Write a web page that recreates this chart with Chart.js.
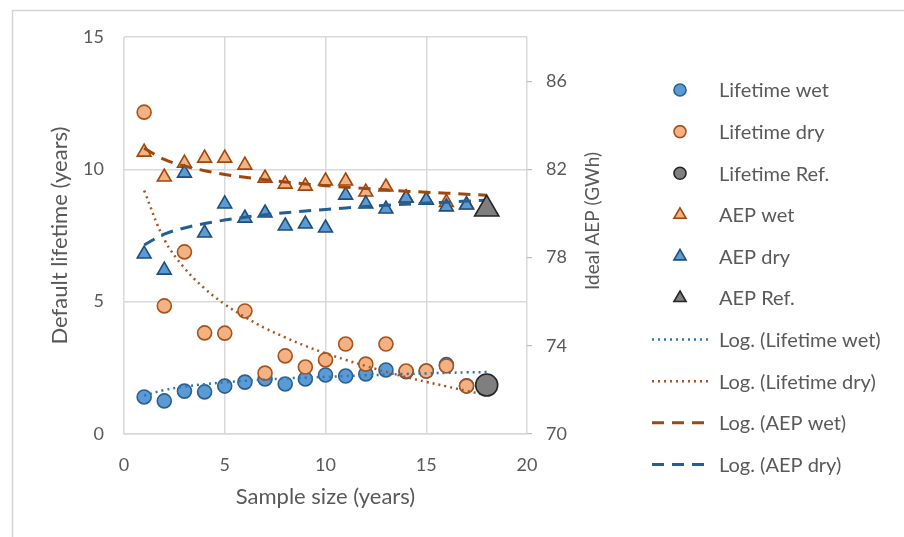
<!DOCTYPE html>
<html>
<head>
<meta charset="utf-8">
<title>Lifetime and AEP vs sample size</title>
<script src="https://cdn.jsdelivr.net/npm/chart.js@4.4.1/dist/chart.umd.min.js"></script>
<style>
  html, body { margin: 0; padding: 0; background: #fff; }
  #wrap { position: relative; width: 904px; height: 537px; }
</style>
</head>
<body>
<div id="wrap"><canvas id="chart" width="904" height="537"></canvas></div>
<script>
// sample sizes (years) of the bootstrap points
const sampleYears = [1, 2, 3, 4, 5, 6, 7, 8, 9, 10, 11, 12, 13, 14, 15, 16, 17];
const lifetimeWet = [1.40, 1.25, 1.62, 1.59, 1.81, 1.96, 2.08, 1.89, 2.08, 2.23, 2.19, 2.27, 2.42, 2.35, 2.38, 2.62, 1.82];
const lifetimeDry = [12.16, 4.84, 6.88, 3.82, 3.81, 4.65, 2.30, 2.95, 2.53, 2.80, 3.40, 2.64, 3.40, 2.38, 2.38, 2.57, 1.81];
const aepWet = [82.78, 81.65, 82.28, 82.51, 82.51, 82.19, 81.60, 81.33, 81.24, 81.47, 81.47, 80.97, 81.20, 80.70, 80.60, 80.50, 80.40];
const aepDry = [78.16, 77.43, 81.83, 79.11, 80.43, 79.79, 80.02, 79.43, 79.52, 79.34, 80.83, 80.43, 80.20, 80.70, 80.60, 80.30, 80.38];

// reference values (full record)
const refYears = [18];
const lifetimeRef = [1.85];
const aepRef = [80.2];

// log trendlines
const trendYears = [1, 2, 3, 4, 5, 6, 7, 8, 9, 10, 11, 12, 13, 14, 15, 16, 17, 18];
const logLifetimeWet = [1.45, 1.66, 1.79, 1.88, 1.95, 2.01, 2.06, 2.10, 2.13, 2.16, 2.19, 2.22, 2.24, 2.27, 2.29, 2.31, 2.33, 2.34];
const logLifetimeDry = [9.20, 7.35, 6.27, 5.50, 4.90, 4.42, 4.00, 3.65, 3.33, 3.05, 2.80, 2.57, 2.35, 2.15, 1.97, 1.80, 1.63, 1.47];
const logAepWet = [82.96, 82.45, 82.15, 81.94, 81.77, 81.64, 81.53, 81.43, 81.34, 81.26, 81.19, 81.13, 81.07, 81.01, 80.96, 80.92, 80.87, 80.83];
const logAepDry = [78.57, 79.06, 79.34, 79.54, 79.70, 79.83, 79.94, 80.03, 80.11, 80.18, 80.25, 80.31, 80.37, 80.42, 80.47, 80.51, 80.56, 80.60];

// axis ticks
const xTicks = [0, 5, 10, 15, 20];
const lifetimeTicks = [0, 5, 10, 15];
const aepTicks = [70, 74, 78, 82, 86];

const textColor = '#595959';
const gridColor = '#d9d9d9';
const fontFamily = 'Lato, "Open Sans", sans-serif';

function pts(xs, ys) {
    return xs.map((x, i) => ({ x: x, y: ys[i] }));
}

function markerSet(label, xs, ys, axis, style, fill, stroke, radius) {
    return {
        label: label,
        data: pts(xs, ys),
        yAxisID: axis,
        showLine: false,
        pointStyle: style,
        pointRadius: radius,
        pointBackgroundColor: fill,
        pointBorderColor: stroke,
        pointBorderWidth: 1.6,
        backgroundColor: fill,
        borderColor: stroke
    };
}

function trendSet(label, ys, axis, color, dash, width) {
    return {
        label: label,
        data: pts(trendYears, ys),
        yAxisID: axis,
        showLine: true,
        pointRadius: 0,
        borderColor: color,
        backgroundColor: color,
        borderWidth: width,
        borderDash: dash,
        tension: 0.4,
        fill: false
    };
}

const datasets = [
    markerSet('Lifetime wet', sampleYears, lifetimeWet, 'y', 'circle', '#5b9bd5', '#2c5f8e', 7),
    markerSet('Lifetime dry', sampleYears, lifetimeDry, 'y', 'circle', '#f4b183', '#a5531c', 7),
    markerSet('Lifetime Ref.', refYears, lifetimeRef, 'y', 'circle', '#7f7f7f', '#262626', 11),
    markerSet('AEP wet', sampleYears, aepWet, 'y1', 'triangle', '#f4b183', '#9e480e', 8),
    markerSet('AEP dry', sampleYears, aepDry, 'y1', 'triangle', '#5b9bd5', '#1f4e79', 8),
    markerSet('AEP Ref.', refYears, aepRef, 'y1', 'triangle', '#7f7f7f', '#262626', 14),
    trendSet('Log. (Lifetime wet)', logLifetimeWet, 'y', '#2e75b6', [2, 4], 2.5),
    trendSet('Log. (Lifetime dry)', logLifetimeDry, 'y', '#a9541f', [2, 4], 2.5),
    trendSet('Log. (AEP wet)', logAepWet, 'y1', '#9e480e', [12, 8], 3),
    trendSet('Log. (AEP dry)', logAepDry, 'y1', '#255e91', [12, 8], 3)
];

// Excel stacking: later series on top, reference points last
const stackOrder = ['Lifetime wet', 'Lifetime dry', 'AEP wet', 'AEP dry',
    'Log. (Lifetime wet)', 'Log. (Lifetime dry)', 'Log. (AEP wet)', 'Log. (AEP dry)',
    'Lifetime Ref.', 'AEP Ref.'];
datasets.forEach(ds => { ds.order = stackOrder.length - stackOrder.indexOf(ds.label); });

// legend drawn by hand so markers and dashed samples sit like the original
const legendPlugin = {
    id: 'sideLegend',
    afterDraw(chart) {
        const c = chart.ctx;
        const markerX = 680, textX = 719, top = 90, step = 41.6;
        c.save();
        c.font = '20px ' + fontFamily;
        c.textBaseline = 'middle';
        c.textAlign = 'left';
        chart.data.datasets.forEach((ds, i) => {
            const y = top + i * step;
            if (ds.showLine) {
                c.beginPath();
                c.setLineDash(ds.borderDash);
                c.lineWidth = ds.borderWidth;
                c.strokeStyle = ds.borderColor;
                c.moveTo(652, y);
                c.lineTo(708, y);
                c.stroke();
                c.setLineDash([]);
            } else {
                c.beginPath();
                c.fillStyle = ds.pointBackgroundColor;
                c.strokeStyle = ds.pointBorderColor;
                c.lineWidth = 1.6;
                if (ds.pointStyle === 'circle') {
                    c.arc(markerX, y, 6, 0, Math.PI * 2);
                } else {
                    const r = 7;
                    c.moveTo(markerX, y - r);
                    c.lineTo(markerX + r * 0.866, y + r * 0.5);
                    c.lineTo(markerX - r * 0.866, y + r * 0.5);
                    c.closePath();
                }
                c.fill();
                c.stroke();
            }
            c.fillStyle = textColor;
            c.fillText(ds.label, textX, y + 1);
        });
        c.restore();
    }
};

// outer frame and the secondary axis title (reads bottom to top, as in the original)
const framePlugin = {
    id: 'frameAndTitle',
    beforeDraw(chart) {
        const c = chart.ctx;
        c.save();
        c.strokeStyle = '#d4d4d4';
        c.lineWidth = 1.5;
        c.beginPath();
        c.moveTo(904, 10.5);
        c.lineTo(12.5, 10.5);
        c.lineTo(12.5, 537);
        c.stroke();
        c.restore();
    },
    afterDraw(chart) {
        const c = chart.ctx;
        c.save();
        c.translate(593, 221);
        c.rotate(-Math.PI / 2);
        c.font = '19px ' + fontFamily;
        c.fillStyle = textColor;
        c.textAlign = 'center';
        c.textBaseline = 'middle';
        c.fillText('Ideal AEP (GWh)', 0, 0);
        c.restore();
    }
};

const tickFont = { family: fontFamily, size: 18 };
const titleFont = { family: fontFamily, size: 22 };

new Chart(document.getElementById('chart'), {
    type: 'scatter',
    data: { datasets: datasets },
    options: {
        responsive: false,
        animation: false,
        layout: { padding: { left: 0, right: 267, top: 37, bottom: 23 } },
        plugins: {
            legend: { display: false },
            tooltip: { enabled: false }
        },
        scales: {
            x: {
                type: 'linear',
                min: 0,
                max: 20,
                afterBuildTicks: s => { s.ticks = xTicks.map(v => ({ value: v })); },
                afterFit: s => { s.height = 80; },
                ticks: { color: textColor, font: tickFont, padding: 20 },
                grid: { color: gridColor, lineWidth: 1.5, drawTicks: false },
                border: { color: gridColor, width: 1.5 },
                title: {
                    display: true,
                    text: 'Sample size (years)',
                    color: textColor,
                    font: titleFont,
                    padding: { top: 0, bottom: 4 }
                }
            },
            y: {
                position: 'left',
                min: 0,
                max: 15,
                afterBuildTicks: s => { s.ticks = lifetimeTicks.map(v => ({ value: v })); },
                afterFit: s => { s.width = 124; },
                ticks: { color: textColor, font: tickFont, padding: 20 },
                grid: { color: gridColor, lineWidth: 1.5, drawTicks: false },
                border: { display: false },
                title: {
                    display: true,
                    text: 'Default lifetime (years)',
                    color: textColor,
                    font: titleFont,
                    padding: { top: 47, bottom: 0 }
                }
            },
            y1: {
                position: 'right',
                min: 70,
                max: 88,
                afterBuildTicks: s => { s.ticks = aepTicks.map(v => ({ value: v })); },
                afterFit: s => { s.width = 110; },
                ticks: { color: textColor, font: tickFont, padding: 14 },
                grid: { drawOnChartArea: false, color: '#bfbfbf', lineWidth: 1.2, tickLength: 5 },
                border: { display: false }
            }
        }
    },
    plugins: [framePlugin, legendPlugin]
});
</script>
</body>
</html>
